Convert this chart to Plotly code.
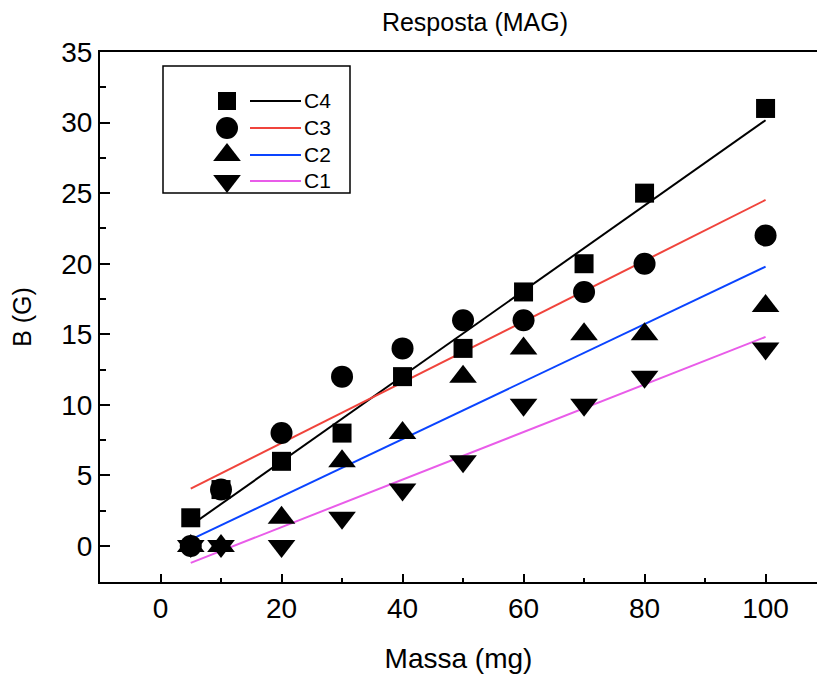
import numpy as np
import plotly.graph_objects as go

massa = [5, 10, 20, 30, 40, 50, 60, 70, 80, 100]
c4 = [2, 4, 6, 8, 12, 14, 18, 20, 25, 31]
c3 = [0, 4, 8, 12, 14, 16, 16, 18, 20, 22]
c2 = [0, 0, 2, 6, 8, 12, 14, 15, 15, 17]
c1 = [0, 0, 0, 2, 4, 6, 10, 10, 12, 14]
names = ["C4", "C3", "C2", "C1"]
series = [c4, c3, c2, c1]
symbols = ["square", "circle", "triangle-up", "triangle-down"]
sizes = [19, 22, 24, 24]
colors = ["#000000", "#f0443c", "#0a44ff", "#e95ce9"]

fig = go.Figure()

# fit lines
x = np.array(massa, dtype=float)
for name, ys, col in zip(names, series, colors):
    k, b = np.polyfit(x, np.array(ys, dtype=float), 1)
    xs = [x.min(), x.max()]
    fig.add_trace(go.Scatter(x=xs, y=[k * v + b for v in xs], mode="lines",
                             line=dict(color=col, width=2), showlegend=False,
                             hoverinfo="skip"))
# markers
for name, ys, sym, sz in zip(names, series, symbols, sizes):
    fig.add_trace(go.Scatter(x=massa, y=ys, mode="markers", name=name,
                             marker=dict(symbol=sym, size=sz, color="black"),
                             showlegend=False))

# manual legend (layout positions in paper coordinates)
L, T, W, H = 100, 52, 717, 530
FW, FH = 817, 675
def px(xp):
    return (xp - L) / W
def py(yp):
    return (T + H - yp) / H

shapes = [dict(type="rect", xref="paper", yref="paper",
               x0=px(163), x1=px(350), y0=py(193), y1=py(66),
               line=dict(color="black", width=1.5))]
rows = [101, 128, 155, 181]
leg_sizes = [18, 22, 24, 24]
annotations = []
for name, sym, sz, col, ry in zip(names, symbols, leg_sizes, colors, rows):
    shapes.append(dict(type="line", xref="paper", yref="paper",
                       x0=px(250), x1=px(301), y0=py(ry), y1=py(ry),
                       line=dict(color=col, width=2)))
    annotations.append(dict(x=px(302), y=py(ry), xref="paper", yref="paper",
                            text=name, showarrow=False, xanchor="left",
                            yanchor="middle", font=dict(size=21, color="black")))
    fig.add_trace(go.Scatter(x=[px(227)], y=[py(ry)], mode="markers",
                             marker=dict(symbol=sym, size=sz, color="black",
                                         line=dict(width=0)),
                             xaxis="x2", yaxis="y2", showlegend=False,
                             hoverinfo="skip", cliponaxis=False))

axis_common = dict(showline=True, linecolor="black", linewidth=2, ticks="inside",
                   tickcolor="black", tickwidth=2, showgrid=False, zeroline=False,
                   tickfont=dict(size=28, color="black"))

fig.update_layout(
    width=FW, height=FH,
    margin=dict(l=L, r=FW - L - W, t=T, b=FH - T - H, autoexpand=False),
    paper_bgcolor="white", plot_bgcolor="white",
    font=dict(family="Liberation Sans, Arial, sans-serif", color="black"),
    title=dict(text="Resposta (MAG)", x=(475) / FW, xanchor="center", y=1 - 22 / FH,
               yanchor="middle", font=dict(size=25)),
    xaxis=dict(range=[-10, 108.5], tickvals=[0, 20, 40, 60, 80, 100], ticklen=8,
               mirror=True,
               minor=dict(tickvals=[10, 30, 50, 70, 90], ticklen=4, ticks="inside",
                          tickcolor="black", tickwidth=2),
               title=dict(text="Massa (mg)", font=dict(size=28), standoff=26),
               **axis_common),
    yaxis=dict(range=[-2.55, 35], tickvals=[0, 5, 10, 15, 20, 25, 30, 35], ticklen=10,
               minor=dict(tickvals=[-2.5, 2.5, 7.5, 12.5, 17.5, 22.5, 27.5, 32.5],
                          ticklen=6, ticks="inside", tickcolor="black", tickwidth=2),
               title=dict(text="B (G)", font=dict(size=25), standoff=22),
               **axis_common),
    xaxis2=dict(range=[0, 1], overlaying="x", visible=False, anchor="y2"),
    yaxis2=dict(range=[0, 1], overlaying="y", visible=False, anchor="x2"),
    shapes=shapes, annotations=annotations,
)

fig.write_html("out.html", config={"displayModeBar": False},
               post_script="document.body.style.margin='0';document.body.style.overflow='hidden';")
